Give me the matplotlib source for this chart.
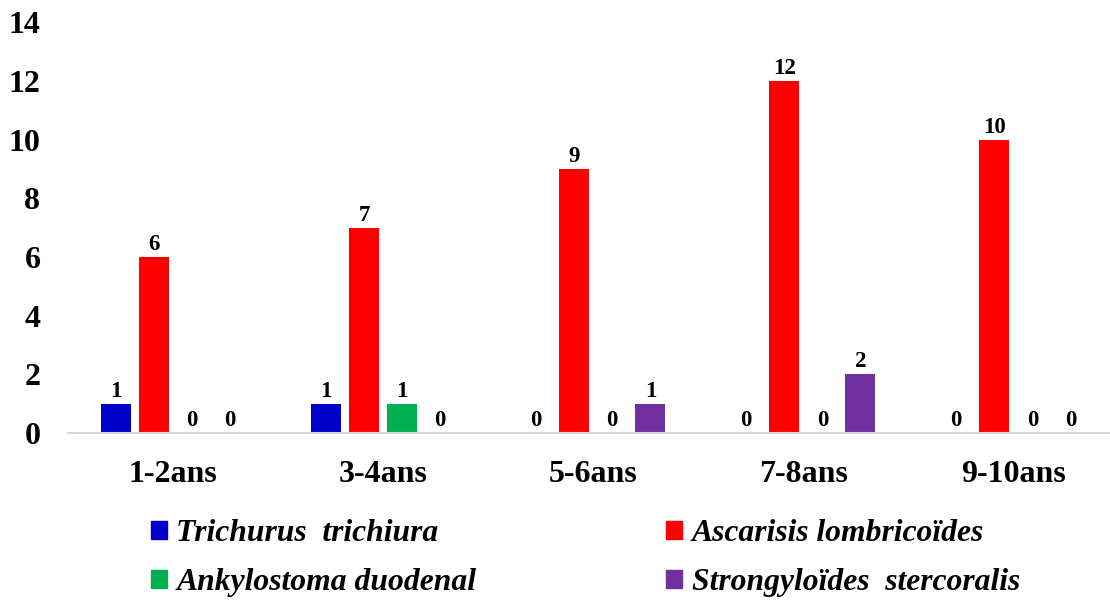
import numpy as np
import matplotlib.pyplot as plt
from matplotlib.patches import Patch

# parasite counts by age group
ages = ['1-2ans', '3-4ans', '5-6ans', '7-8ans', '9-10ans']
trichurus = [1, 1, 0, 0, 0]
ascaris = [6, 7, 9, 12, 10]
ankylostoma = [0, 1, 0, 0, 0]
strongyloides = [0, 0, 1, 2, 0]

names = ['Trichurus  trichiura', 'Ascarisis lombricoïdes',
         'Ankylostoma duodenal', 'Strongyloïdes  stercoralis']
series = [trichurus, ascaris, ankylostoma, strongyloides]
colors = ['#0000CC', '#FF0000', '#00B050', '#7030A0']

plt.rcParams['font.family'] = ['Liberation Serif', 'DejaVu Serif']
plt.rcParams['font.weight'] = 'bold'

fig = plt.figure(figsize=(11.1, 6), dpi=100)
# axes runs a little past the right edge, like the original
ax = fig.add_axes([0.0615, 0.278, 0.946, 0.685])

x = np.arange(len(ages))
width = 0.143
step = 0.181
for i, (vals, col) in enumerate(zip(series, colors)):
    bars = ax.bar(x + (i - 1.5) * step, vals, width, color=col)
    ax.bar_label(bars, labels=[str(v) for v in vals], padding=1.5,
                 fontsize=16.5, fontweight='bold')

ax.set_xlim(-0.5, len(ages) - 0.5)
ax.set_ylim(0, 14)
ax.set_yticks(range(0, 15, 2))
ax.set_xticks(x)
ax.set_xticklabels(ages)
ax.tick_params(axis='both', length=0, labelsize=23)
ax.tick_params(axis='y', pad=20)
ax.tick_params(axis='x', pad=19)
for lab in ax.get_xticklabels() + ax.get_yticklabels():
    lab.set_fontweight('bold')

for s in ['top', 'right', 'left']:
    ax.spines[s].set_visible(False)
ax.spines['bottom'].set_color('#D9D9D9')
ax.spines['bottom'].set_linewidth(1.5)

# legend order: row-wise two columns
handles = [Patch(color=c) for c in colors]
order = [0, 2, 1, 3]
leg = fig.legend([handles[k] for k in order], [names[k] for k in order],
                 loc='center', bbox_to_anchor=(0.5275, 0.07), ncol=2,
                 frameon=False, handlelength=0.5, handleheight=0.5,
                 handletextpad=0.3, columnspacing=6.0, labelspacing=0.62,
                 borderpad=0.2,
                 prop={'family': 'Liberation Serif', 'weight': 'bold',
                       'style': 'italic', 'size': 22.8})

fig.savefig('out.png', dpi=100)
